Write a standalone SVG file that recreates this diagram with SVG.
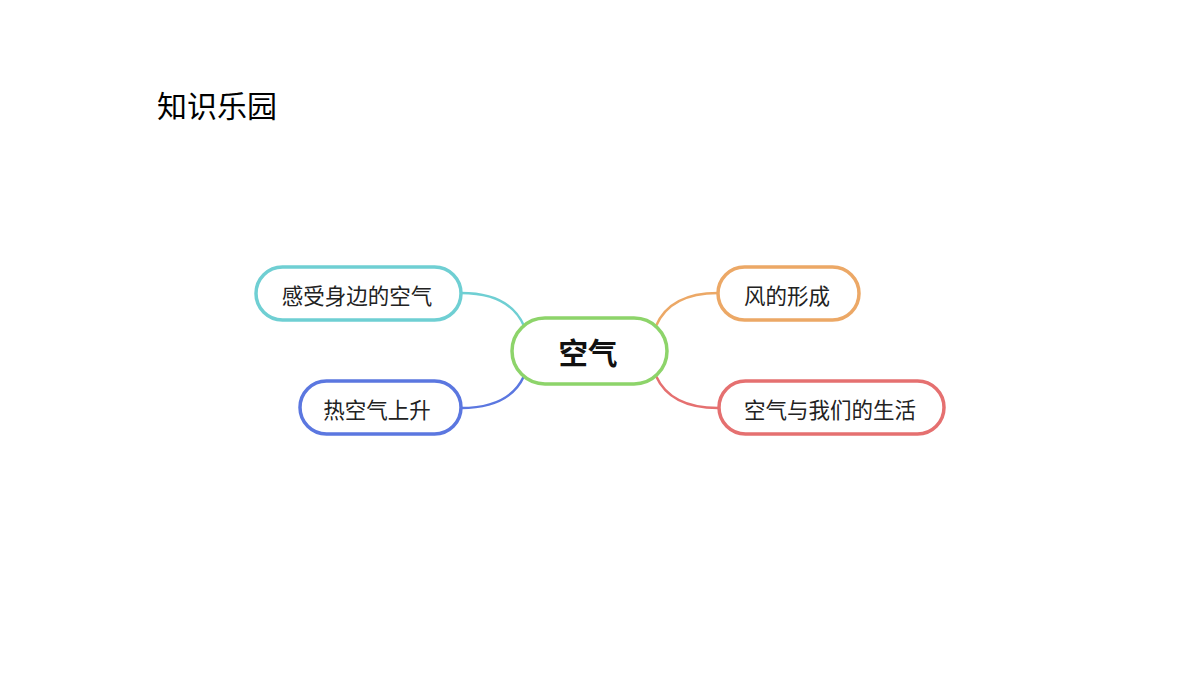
<svg xmlns="http://www.w3.org/2000/svg" width="1200" height="675" viewBox="0 0 1200 675">
<style>
.node{fill:#fff;stroke-width:3.5}
.lbl{font-family:"Noto Sans CJK SC","Noto Sans",sans-serif;font-size:21.5px;fill:#222;text-anchor:middle;dominant-baseline:central}
.conn{fill:none;stroke-width:2.5}
</style>
<rect width="1200" height="675" fill="#fff"/>
<text x="157" y="117" font-family="'Noto Sans CJK SC',serif" font-size="30" fill="#000">知识乐园</text>
<g id="connectors">
<path class="conn" stroke="#6fcfd3" d="M461,293 C495,293 515,305 524,326"/>
<path class="conn" stroke="#5b77e0" d="M461,408 C495,408 515,396 524,376"/>
<path class="conn" stroke="#eca866" d="M718,293 C685,293 665,305 656,326"/>
<path class="conn" stroke="#e57070" d="M718,408 C685,408 665,396 656,376"/>
</g>
<g id="center">
<rect class="node" x="512" y="318" width="155" height="66" rx="33" stroke="#8dd46a"/>
<text class="lbl" x="588" y="351" font-weight="bold" style="font-size:29.5px;fill:#111">空气</text>
</g>
<g id="n1">
<rect class="node" x="256" y="267" width="205" height="53" rx="26.5" stroke="#6fcfd3"/>
<text class="lbl" x="357" y="294">感受身边的空气</text>
</g>
<g id="n2">
<rect class="node" x="300" y="381" width="161" height="53" rx="26.5" stroke="#5b77e0"/>
<text class="lbl" x="377" y="408">热空气上升</text>
</g>
<g id="n3">
<rect class="node" x="718" y="267" width="141" height="53" rx="26.5" stroke="#eca866"/>
<text class="lbl" x="787" y="294">风的形成</text>
</g>
<g id="n4">
<rect class="node" x="719" y="381" width="225" height="53" rx="26.5" stroke="#e57070"/>
<text class="lbl" x="830" y="408">空气与我们的生活</text>
</g>
</svg>
